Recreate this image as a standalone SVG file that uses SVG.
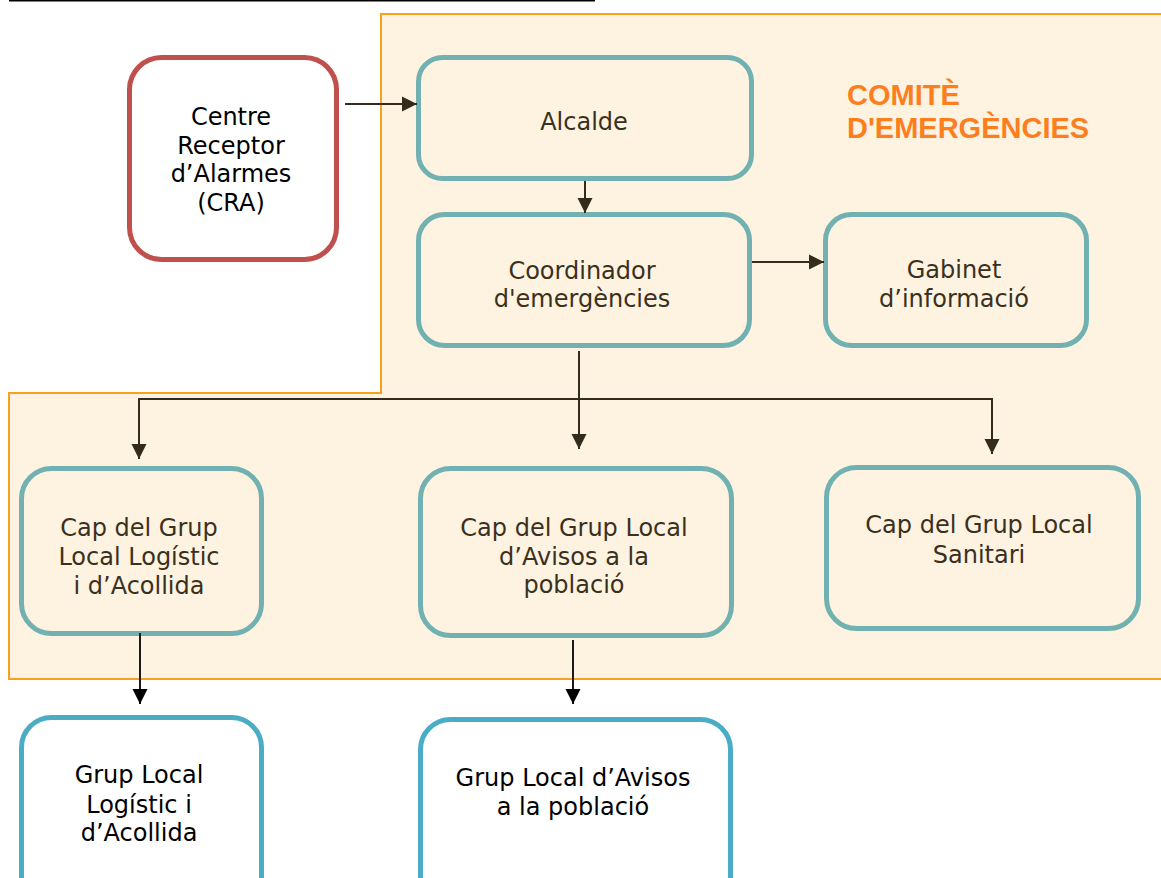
<svg xmlns="http://www.w3.org/2000/svg" width="1161" height="878" viewBox="0 0 1161 878">
<style>
.t{font-family:"DejaVu Sans",Verdana,sans-serif;font-size:24px;text-anchor:middle;fill:#3a3020}
.tb{font-family:"DejaVu Sans",Verdana,sans-serif;font-size:24px;text-anchor:middle;fill:#000}
.title{font-family:"Liberation Sans",Arial,sans-serif;font-size:29px;font-weight:bold;fill:#fc7f1f}
.teal{fill:none;stroke:#71b1b1;stroke-width:5}
.blue{fill:#fff;stroke:#4bacc6;stroke-width:5}
.red{fill:#fff;stroke:#c0504d;stroke-width:5}
.c{fill:none;stroke:#332b1b;stroke-width:2}
.ck{fill:none;stroke:#1a1a1a;stroke-width:2}
</style>
<defs>
<marker id="ah" markerUnits="userSpaceOnUse" markerWidth="16" markerHeight="16" viewBox="0 0 16 16" refX="15" refY="8" orient="auto">
<path d="M0,0.5 L15,8 L0,15.5 Z" fill="#332b1b"/>
</marker>
<marker id="ahk" markerUnits="userSpaceOnUse" markerWidth="16" markerHeight="16" viewBox="0 0 16 16" refX="15" refY="8" orient="auto">
<path d="M0,0.5 L15,8 L0,15.5 Z" fill="#000"/>
</marker>
</defs>
<rect width="1161" height="878" fill="#fff"/>
<line x1="9" y1="0.75" x2="595" y2="0.75" stroke="#000" stroke-width="1.5"/>
<g id="comite">
<path d="M381,14 H1164 V679 H9 V393 H381 Z" fill="#fef3e0" stroke="#f9a11b" stroke-width="2"/>
<text class="title" x="847" y="105">COMITÈ</text>
<text class="title" x="847" y="138">D'EMERGÈNCIES</text>
</g>
<g id="cra">
<rect class="red" x="129.5" y="57.5" width="207" height="202" rx="32"/>
<text class="tb" x="231" y="125">Centre</text>
<text class="tb" x="231" y="154">Receptor</text>
<text class="tb" x="231" y="182">d’Alarmes</text>
<text class="tb" x="231" y="211">(CRA)</text>
</g>
<g id="alcalde">
<rect class="teal" x="418.5" y="57.5" width="333" height="121" rx="24"/>
<text class="t" x="584" y="130">Alcalde</text>
</g>
<g id="coordinador">
<rect class="teal" x="418.5" y="214.5" width="331" height="131" rx="26"/>
<text class="t" x="582" y="279">Coordinador</text>
<text class="t" x="582" y="307">d'emergències</text>
</g>
<g id="gabinet">
<rect class="teal" x="825.5" y="214.5" width="261" height="131" rx="26"/>
<text class="t" x="954" y="278">Gabinet</text>
<text class="t" x="954" y="307">d’informació</text>
</g>
<g id="cap-logistic">
<rect class="teal" x="21.5" y="468.5" width="240" height="165" rx="30"/>
<text class="t" x="139" y="536">Cap del Grup</text>
<text class="t" x="139" y="565">Local Logístic</text>
<text class="t" x="139" y="594">i d’Acollida</text>
</g>
<g id="cap-avisos">
<rect class="teal" x="420.5" y="468.5" width="311" height="167" rx="30"/>
<text class="t" x="574" y="536">Cap del Grup Local</text>
<text class="t" x="574" y="565">d’Avisos a la</text>
<text class="t" x="574" y="593">població</text>
</g>
<g id="cap-sanitari">
<rect class="teal" x="826.5" y="467.5" width="312" height="161" rx="30"/>
<text class="t" x="979" y="533">Cap del Grup Local</text>
<text class="t" x="979" y="563">Sanitari</text>
</g>
<g id="grup-logistic">
<rect class="blue" x="21.5" y="717.5" width="240" height="200" rx="30"/>
<text class="tb" x="139" y="783">Grup Local</text>
<text class="tb" x="139" y="813">Logístic i</text>
<text class="tb" x="139" y="841">d’Acollida</text>
</g>
<g id="grup-avisos">
<rect class="blue" x="420.5" y="719.5" width="310" height="200" rx="30"/>
<text class="tb" x="573" y="786">Grup Local d’Avisos</text>
<text class="tb" x="573" y="815">a la població</text>
</g>
<g id="connectors">
<path class="c" d="M345,104 H417" marker-end="url(#ah)"/>
<path class="c" d="M585,181 V213" marker-end="url(#ah)"/>
<path class="c" d="M752,262 H824" marker-end="url(#ah)"/>
<path class="c" d="M579,351 V449" marker-end="url(#ah)"/>
<path class="c" d="M139,459 V399 H992 V454" marker-end="url(#ah)"/>
<path class="c" d="M139,399 V459" marker-end="url(#ah)"/>
<path class="ck" d="M140,633 V704" marker-end="url(#ahk)"/>
<path class="ck" d="M573,640 V704" marker-end="url(#ahk)"/>
</g>
</svg>
